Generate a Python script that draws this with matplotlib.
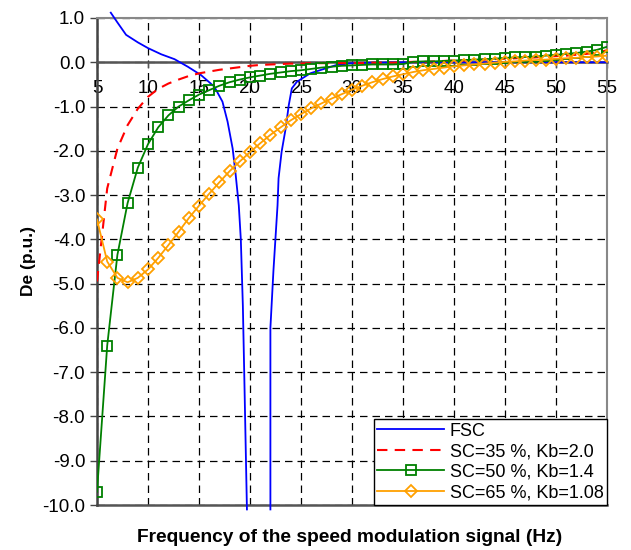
import numpy as np
import matplotlib.pyplot as plt

plt.rcParams['font.family'] = ['Liberation Sans', 'DejaVu Sans']
plt.rcParams['axes.unicode_minus'] = False

# frequency of the speed modulation signal (Hz)
freq = list(range(5, 56))

# FSC curve, two branches around the pole
fsc_left_x = [6.35, 7, 7.85, 9, 10, 11.3, 12.6, 13.9, 15.2, 16.5, 17.3, 17.8,
              18.3, 18.6, 18.9, 19.1, 19.3, 19.45, 19.7]
fsc_left_y = [1.12, 0.90, 0.62, 0.45, 0.32, 0.18, 0.07, -0.10, -0.29, -0.55, -0.89,
              -1.34, -1.95, -2.55, -3.23, -4.0, -5.5, -7.2, -10.1]
fsc_right_x = [22.0, 22.0, 22.3, 22.7, 22.8, 23.1, 23.5, 23.8, 24.1, 24.6, 25.9,
               27.4, 28.5, 30, 32, 35, 40, 45, 50, 55]
fsc_right_y = [-10.1, -6.0, -4.7, -3.23, -2.62, -2.02, -1.49, -0.97, -0.59, -0.44,
               -0.25, -0.14, -0.06, -0.02, -0.01, 0.0, 0.0, 0.0, 0.0, 0.0]

sc35 = [-4.95, -2.85, -1.95, -1.42, -1.05, -0.78, -0.60, -0.48, -0.39, -0.31,
        -0.25, -0.21, -0.17, -0.14, -0.11, -0.08, -0.06, -0.05, -0.04, -0.03,
        -0.03, -0.02, -0.02, -0.02, -0.02, -0.02, -0.02, -0.01, -0.01, -0.01,
        0.0, 0.01, 0.01, 0.02, 0.03, 0.04, 0.04, 0.05, 0.06, 0.07,
        0.08, 0.09, 0.10, 0.11, 0.12, 0.14, 0.15, 0.17, 0.19, 0.22, 0.27]

sc50 = [-9.7, -6.4, -4.35, -3.18, -2.38, -1.85, -1.47, -1.20, -1.00, -0.86,
        -0.73, -0.63, -0.53, -0.45, -0.39, -0.34, -0.30, -0.26, -0.23, -0.20,
        -0.18, -0.15, -0.12, -0.10, -0.08, -0.07, -0.06, -0.05, -0.05, -0.05,
        -0.04, 0.01, 0.02, 0.02, 0.03, 0.04, 0.05, 0.06, 0.07, 0.08,
        0.10, 0.11, 0.12, 0.13, 0.15, 0.17, 0.19, 0.21, 0.24, 0.28, 0.35]

sc65 = [-3.55, -4.50, -4.87, -4.97, -4.87, -4.68, -4.42, -4.13, -3.83, -3.52,
        -3.24, -2.97, -2.71, -2.46, -2.24, -2.03, -1.83, -1.64, -1.47, -1.31,
        -1.17, -1.04, -0.93, -0.82, -0.72, -0.62, -0.53, -0.45, -0.38, -0.32,
        -0.27, -0.22, -0.18, -0.15, -0.12, -0.09, -0.07, -0.05, -0.03, -0.01,
        0.01, 0.02, 0.04, 0.05, 0.06, 0.08, 0.09, 0.10, 0.12, 0.13, 0.15]

labels = ['FSC', 'SC=35 %, Kb=2.0', 'SC=50 %, Kb=1.4', 'SC=65 %, Kb=1.08']
x_ticks = list(range(5, 56, 5))
y_ticks = list(range(1, -11, -1))

fig = plt.figure(figsize=(6.31, 5.5), dpi=100)
ax = fig.add_axes([97 / 631, 1 - 505 / 550, 510 / 631, 487 / 550])

fsc_x = fsc_left_x + [np.nan] + fsc_right_x
fsc_y = fsc_left_y + [np.nan] + fsc_right_y
ax.plot(fsc_x, fsc_y, color='#0000ff', lw=1.3, clip_on=False, label=labels[0], zorder=3)
ax.plot(freq, sc35, color='#ff0000', lw=1.5, ls=(0, (5, 3.5)), label=labels[1], zorder=3)
ax.plot(freq, sc50, color='#008000', lw=1.3, marker='s', ms=6.5, mfc='none',
        mew=1.3, label=labels[2], zorder=4)
ax.plot(freq, sc65, color='#ffa000', lw=1.3, marker='D', ms=6.3, mfc='none',
        mew=1.3, label=labels[3], zorder=5)

ax.set_xlim(5, 55)
ax.set_ylim(-10, 1)
ax.set_xticks(x_ticks)
ax.set_yticks(y_ticks)
ax.set_yticklabels([f'{v:.1f}' for v in y_ticks])

ax.grid(True, color='black', lw=0.9, ls=(0, (6, 4)))
ax.set_axisbelow(True)

# x axis crosses at zero
ax.spines['bottom'].set_position(('data', 0))
ax.spines['bottom'].set_color('#555555')
ax.spines['bottom'].set_linewidth(1.8)
ax.spines['left'].set_color('#444444')
ax.spines['left'].set_linewidth(1.8)
for s in ['top', 'right']:
    ax.spines[s].set_color('#888888')
    ax.spines[s].set_linewidth(1.5)
ax.axhline(-10, color='#555555', lw=1.8, clip_on=False, zorder=2)

ax.tick_params(axis='x', direction='out', length=4, width=1, pad=9,
               labelsize=13.5, colors='#555555', labelcolor='black')
ax.tick_params(axis='y', direction='out', length=5, width=1,
               labelsize=13.5, colors='#444444', labelcolor='black')

ax.set_ylabel('De (p.u.)', fontsize=12.5, fontweight='bold', labelpad=4.5)
fig.text(350 / 631, 1 - 538 / 550, 'Frequency of the speed modulation signal (Hz)',
         fontsize=13.8, fontweight='bold', ha='center', va='center')

leg = ax.legend(loc='lower right', borderaxespad=0, fontsize=13, handlelength=3.7,
                handletextpad=0.3, labelspacing=0.2, borderpad=0.2,
                fancybox=False, framealpha=1, edgecolor='black')
leg.get_frame().set_linewidth(1.0)
leg.set_zorder(10)

fig.savefig('out.png', dpi=100)
